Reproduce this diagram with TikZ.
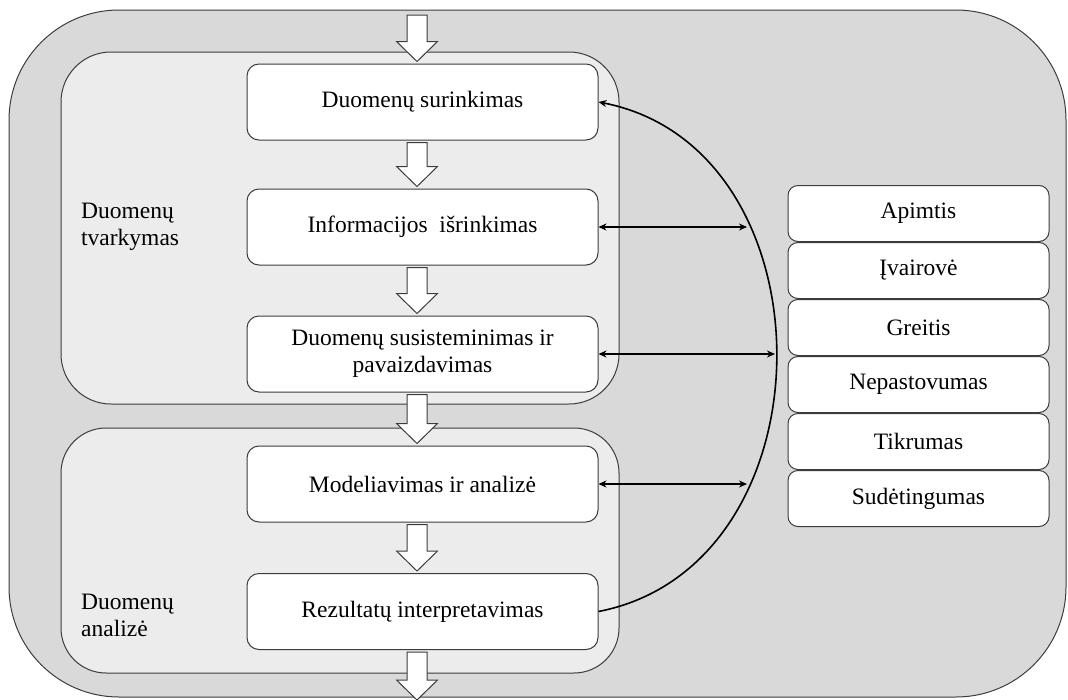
\documentclass[tikz,border=0pt]{standalone}
\usepackage{fontspec}
\setmainfont{Liberation Serif}
\usetikzlibrary{calc,arrows.meta}
\definecolor{outergray}{HTML}{D9D9D9}
\definecolor{groupgray}{HTML}{ECECEC}
\definecolor{edgegray}{HTML}{3C3C3C}
\def\blockarrow(#1)(#2){\path ($(#1)+(-5.5,2)$) coordinate (s) ($(#2)+(-5.5,-2)$) coordinate (t) ($(t)+(0,-20)$) coordinate (h);
	\draw[line width=1pt, draw=edgegray, fill=white] ($(s)+(-10,0)$) -- ($(h)+(-10,0)$) -- ($(h)+(-20.5,0)$) -- (t) -- ($(h)+(20.5,0)$) -- ($(h)+(10,0)$) -- ($(s)+(10,0)$) -- cycle;}

\begin{document}
\begin{tikzpicture}[x=1pt, y=-1pt,
		whitebox/.style={draw=edgegray, fill=white, line width=1pt, rounded corners=12pt, minimum width=351pt, minimum height=76pt, inner sep=0pt, align=center, font=\fontsize{23.5}{27}\selectfont},
		propbox/.style={whitebox, rounded corners=10pt, minimum width=261pt, minimum height=56pt},
		grouplabel/.style={anchor=west, inner sep=0pt, align=left, font=\fontsize{23.5}{27}\selectfont},
		linkarrow/.style={line width=1.6pt, {Stealth[length=8pt,width=7pt]}-{Stealth[length=8pt,width=7pt]}}]
	%%%%% START %%%%%
	
	\useasboundingbox (0, 0) rectangle (1068, 699);
	
	\draw[line width=1pt, draw=edgegray, fill=outergray, rounded corners=110pt] (9, 10) rectangle (1066, 697);
	\draw[line width=1pt, draw=edgegray, fill=groupgray, rounded corners=50pt] (61, 52) rectangle (619, 404);
	\draw[line width=1pt, draw=edgegray, fill=groupgray, rounded corners=45pt] (61, 428) rectangle (619, 673);
	
	\node[grouplabel] (tvarkymas) at (81, 227) {Duomenų\\tvarkymas};
	\node[grouplabel] (analize) at (81, 615) {Duomenų\\analizė};
	
	\node[whitebox] (surinkimas) at (422.5, 102) {Duomenų surinkimas};
	\node[whitebox] (isrinkimas) at (422.5, 227) {Informacijos\ \ išrinkimas};
	\node[whitebox] (susisteminimas) at (422.5, 354) {Duomenų susisteminimas ir\\pavaizdavimas};
	\node[whitebox] (modeliavimas) at (422.5, 484) {Modeliavimas ir analizė};
	\node[whitebox] (interpretavimas) at (422.5, 611.5) {Rezultatų interpretavimas};
	
	\node[propbox] (apimtis) at (918.5, 213.5) {Apimtis};
	\node[propbox] (ivairove) at (918.5, 270.5) {Įvairovė};
	\node[propbox] (greitis) at (918.5, 327.5) {Greitis};
	\node[propbox] (nepastovumas) at (918.5, 384.5) {Nepastovumas};
	\node[propbox] (tikrumas) at (918.5, 441.5) {Tikrumas};
	\node[propbox] (sudetingumas) at (918.5, 498.5) {Sudėtingumas};
	
	% block arrows
	\coordinate (ivestis) at (422.5, 13);
	\coordinate (isvestis) at (422.5, 702);
	\blockarrow(ivestis)(surinkimas.north)
	\blockarrow(surinkimas.south)(isrinkimas.north)
	\blockarrow(isrinkimas.south)(susisteminimas.north)
	\blockarrow(susisteminimas.south)(modeliavimas.north)
	\blockarrow(modeliavimas.south)(interpretavimas.north)
	\blockarrow(interpretavimas.south)(isvestis)
	
	% feedback curve
	\draw[line width=1.6pt, -{Stealth[length=8pt,width=7pt]}] (interpretavimas.east) .. controls +(237, -46) and +(237, 46) .. (surinkimas.east);
	\coordinate (lankas2) at (747, 227);
	\coordinate (lankas3) at (775, 354);
	\coordinate (lankas4) at (747, 484);
	\draw[linkarrow] (isrinkimas.east) -- (lankas2);
	\draw[linkarrow] (susisteminimas.east) -- (lankas3);
	\draw[linkarrow] (modeliavimas.east) -- (lankas4);
	
	%%%%% END %%%%%
\end{tikzpicture}
\end{document}
